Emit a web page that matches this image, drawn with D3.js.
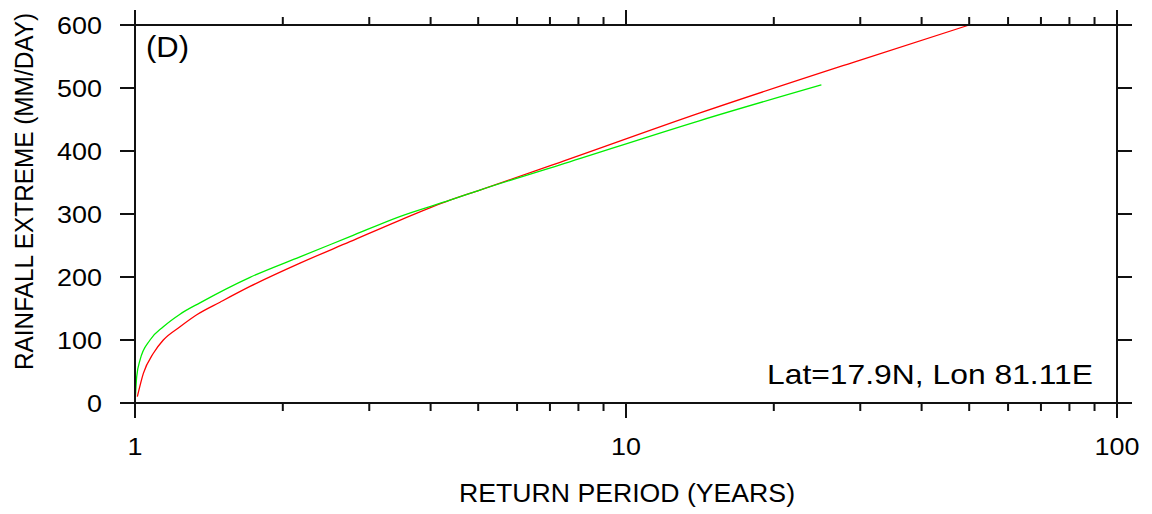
<!DOCTYPE html>
<html><head><meta charset="utf-8">
<script src="https://cdn.jsdelivr.net/npm/d3@7"></script>
<style>body{margin:0;background:#fff}svg{display:block}text{font-family:"Liberation Sans",Arial,sans-serif;fill:#000}</style>
</head><body>
<script>
const redT = [1.011, 1.04, 1.09, 1.142, 1.235, 1.336, 1.49, 1.715, 2.168, 2.74, 3.46, 4.38, 5.04, 7.34, 14.1, 29.9, 50];
const redV = [10, 47, 79, 100, 121, 140, 160, 185, 222, 256, 290, 322, 338, 382, 460, 544, 600];
const greenT = [1.002, 1.008, 1.0237, 1.073, 1.142, 1.235, 1.356, 1.715, 2.168, 2.74, 3.46, 4.38, 5.04, 7.34, 14.1, 25];
const greenV = [10, 42, 68, 100, 121, 141, 159, 199.5, 232, 264, 296, 322, 338, 378, 448, 505];
const yTicks = [0, 100, 200, 300, 400, 500, 600];
const xMajor = [1, 10, 100];
const xMinor = [2,3,4,5,6,7,8,9,20,30,40,50,60,70,80,90];

const W = 1152, H = 514;
const L = 135, R = 1117, T = 25, B = 403;
const svg = d3.select("body").append("svg").attr("width", W).attr("height", H);
const x = d3.scaleLog().domain([1, 100]).range([L, R]);
const y = d3.scaleLinear().domain([0, 600]).range([B, T]);

const line = d3.line().x(d => x(d[0])).y(d => y(d[1])).curve(d3.curveMonotoneX);
svg.append("path").datum(redT.map((t, i) => [t, redV[i]]))
  .attr("d", line).attr("fill", "none").attr("stroke", "#ff0000").attr("stroke-width", 1.3);
svg.append("path").datum(greenT.map((t, i) => [t, greenV[i]]))
  .attr("d", line).attr("fill", "none").attr("stroke", "#00ee00").attr("stroke-width", 1.3);

const ax = svg.append("g").attr("stroke", "#111").attr("stroke-width", 2);
ax.append("rect").attr("x", L).attr("y", T).attr("width", R - L).attr("height", B - T).attr("fill", "none");
yTicks.forEach(v => {
  ax.append("line").attr("x1", L - 15).attr("x2", L).attr("y1", y(v)).attr("y2", y(v));
  ax.append("line").attr("x1", R).attr("x2", R + 15).attr("y1", y(v)).attr("y2", y(v));
});
xMajor.forEach(v => {
  ax.append("line").attr("x1", x(v)).attr("x2", x(v)).attr("y1", T - 15).attr("y2", T);
  ax.append("line").attr("x1", x(v)).attr("x2", x(v)).attr("y1", B).attr("y2", B + 15);
});
xMinor.forEach(v => {
  ax.append("line").attr("x1", x(v)).attr("x2", x(v)).attr("y1", T - 8).attr("y2", T);
  ax.append("line").attr("x1", x(v)).attr("x2", x(v)).attr("y1", B).attr("y2", B + 8);
});

svg.selectAll(".yl").data(yTicks).enter().append("text")
  .attr("transform", d => `translate(102,${y(d) + 8.5}) scale(1.17,1)`).attr("text-anchor", "end")
  .style("font-size", "23px").text(d => d);
svg.selectAll(".xl").data(xMajor).enter().append("text")
  .attr("transform", d => `translate(${x(d)},455) scale(1.17,1)`).attr("text-anchor", "middle")
  .style("font-size", "23px").text(d => d);

svg.append("text").attr("x", 459).attr("y", 502)
  .attr("textLength", 336).attr("lengthAdjust", "spacingAndGlyphs")
  .style("font-size", "26px").text("RETURN PERIOD (YEARS)");
svg.append("text").attr("transform", "translate(33,370) rotate(-90)")
  .attr("textLength", 357).attr("lengthAdjust", "spacingAndGlyphs")
  .style("font-size", "25px").text("RAINFALL EXTREME (MM/DAY)");
svg.append("text").attr("x", 146).attr("y", 57)
  .attr("textLength", 43).attr("lengthAdjust", "spacingAndGlyphs")
  .style("font-size", "29px").text("(D)");
svg.append("text").attr("x", 767).attr("y", 384)
  .attr("textLength", 326).attr("lengthAdjust", "spacingAndGlyphs")
  .style("font-size", "28px").text("Lat=17.9N, Lon 81.11E");
</script>
</body></html>
